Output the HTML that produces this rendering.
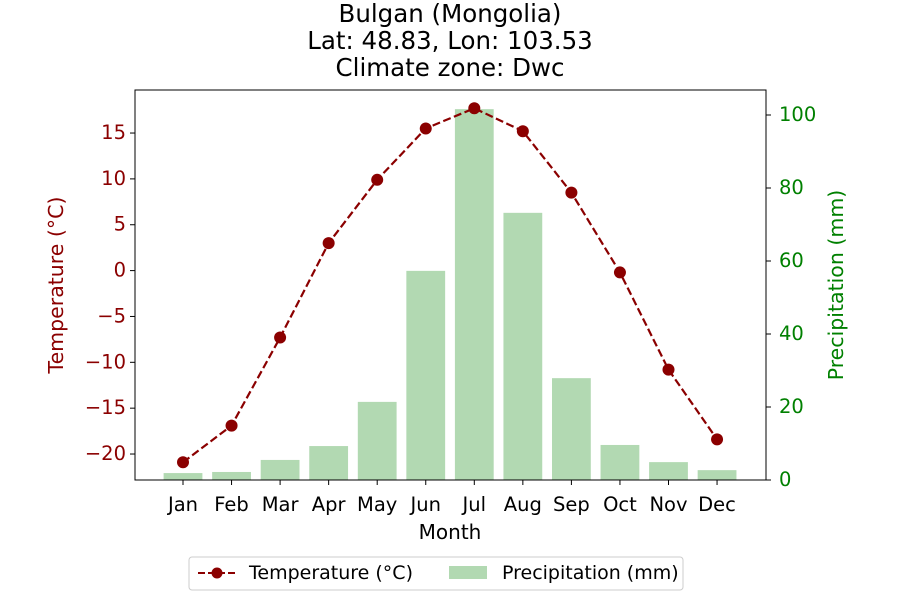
<!DOCTYPE html>
<html><head><meta charset="utf-8"><style>
body{margin:0;background:#fff;font-family:"Liberation Sans","DejaVu Sans",sans-serif;}
svg text{font-family:"DejaVu Sans","Liberation Sans",sans-serif;}
</style></head><body>
<svg id="c" width="900" height="600" viewBox="0 0 900 600" xmlns="http://www.w3.org/2000/svg">
<text x="450" y="22" text-anchor="middle" font-size="24.5">Bulgan (Mongolia)</text>
<text x="450" y="49" text-anchor="middle" font-size="24.5">Lat: 48.83, Lon: 103.53</text>
<text x="450" y="76" text-anchor="middle" font-size="24.5">Climate zone: Dwc</text>
<g id="bars"></g><g id="line"></g><g id="axes"></g>
<rect x="135" y="90" width="631" height="390" fill="none" stroke="#000" stroke-width="1"/>
<text x="450" y="539" text-anchor="middle" font-size="20">Month</text>
<text transform="translate(63,285) rotate(-90)" text-anchor="middle" font-size="20.5" fill="#8b0000">Temperature (°C)</text>
<text transform="translate(843,285) rotate(-90)" text-anchor="middle" font-size="20.5" fill="green">Precipitation (mm)</text>
<g>
<rect x="189" y="557" width="494" height="33" rx="3" fill="#fff" stroke="#ccc"/>
<line x1="198" y1="573" x2="236" y2="573" stroke="#8b0000" stroke-width="2" stroke-dasharray="7,3"/>
<circle cx="217" cy="573" r="5.5" fill="#8b0000"/>
<text x="249" y="579" font-size="19">Temperature (°C)</text>
<rect x="449" y="566" width="38" height="13" fill="green" fill-opacity="0.3"/>
<text x="502" y="579" font-size="19">Precipitation (mm)</text>
</g>
</svg>
<script>
const months=["Jan","Feb","Mar","Apr","May","Jun","Jul","Aug","Sep","Oct","Nov","Dec"];
const temps=[-20.9,-16.9,-7.3,3.0,9.9,15.5,17.7,15.2,8.5,-0.2,-10.8,-18.4];
const precip=[1.9,2.2,5.5,9.3,21.4,57.3,101.6,73.2,27.9,9.6,4.9,2.7];
const tempTicks=[-20,-15,-10,-5,0,5,10,15];
const precipTicks=[0,20,40,60,80,100];
const NS="http://www.w3.org/2000/svg";
const xS=i=>183+i*48.55;
const yT=v=>270.6-v*9.171;
const yP=v=>480-v*3.65;
function mk(t,a,p){const e=document.createElementNS(NS,t);for(const k in a)e.setAttribute(k,a[k]);document.getElementById(p).appendChild(e);return e;}
precip.forEach((v,i)=>{const r=mk('rect',{x:xS(i)-19.4,y:yP(v),width:38.8,height:480-yP(v),fill:'green','fill-opacity':0.3},'bars');

});
const pl=mk('polyline',{points:temps.map((v,i)=>xS(i)+','+yT(v)).join(' '),fill:'none',stroke:'#8b0000','stroke-width':2.2,'stroke-dasharray':'8,3.5'},'line');


temps.forEach((v,i)=>{const c=mk('circle',{cx:xS(i),cy:yT(v),r:6,fill:'#8b0000'},'line');

});
months.forEach((m,i)=>{mk('line',{x1:xS(i),x2:xS(i),y1:480,y2:485,stroke:'#000'},'axes');
const t=mk('text',{x:xS(i),y:511,'text-anchor':'middle','font-size':19.5},'axes');t.textContent=m;

});
tempTicks.forEach(v=>{mk('line',{x1:130,x2:135,y1:yT(v),y2:yT(v),stroke:'#000'},'axes');
const t=mk('text',{x:126,y:yT(v)+6,'text-anchor':'end','font-size':19.5,fill:'#8b0000'},'axes');t.textContent=v<0?'\u2212'+(-v):v;

});
precipTicks.forEach(v=>{mk('line',{x1:766,x2:771,y1:yP(v),y2:yP(v),stroke:'#000'},'axes');
const t=mk('text',{x:779,y:yP(v)+6,'font-size':19.5,fill:'green'},'axes');t.textContent=v;

});
</script>
</body></html>
